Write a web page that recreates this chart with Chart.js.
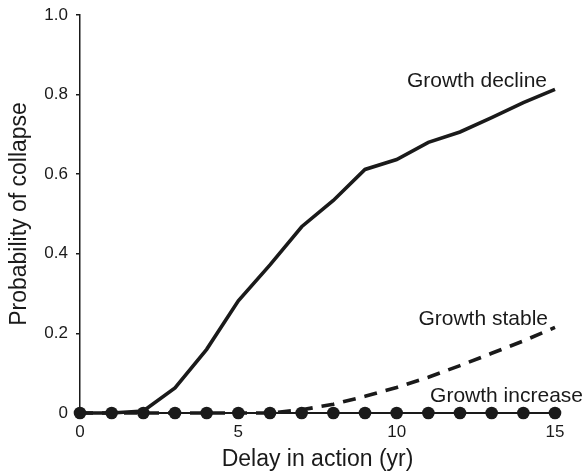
<!DOCTYPE html>
<html>
<head>
<meta charset="utf-8">
<script src="https://cdn.jsdelivr.net/npm/chart.js@4"></script>
<style>
  html, body { margin: 0; padding: 0; background: #fff; }
  #wrap { width: 585px; height: 476px; }
</style>
</head>
<body>
<div id="wrap"><canvas id="c" width="585" height="476"></canvas></div>
<script>
// Delay before management action (years)
const delays = [0, 1, 2, 3, 4, 5, 6, 7, 8, 9, 10, 11, 12, 13, 14, 15];

// Probability of stock collapse under each growth scenario
const growthDecline  = [0, 0, 0.005, 0.063, 0.16, 0.282, 0.372, 0.468, 0.534, 0.612, 0.637, 0.68, 0.706, 0.742, 0.78, 0.813];
const growthStable   = [0, 0, 0, 0, 0, 0, 0, 0.008, 0.022, 0.042, 0.064, 0.09, 0.119, 0.15, 0.181, 0.215];
const growthIncrease = [0, 0, 0, 0, 0, 0, 0, 0, 0, 0, 0, 0, 0, 0, 0, 0];

const seriesNames = ['Growth decline', 'Growth stable', 'Growth increase'];
const yTickLabels = ['0', '0.2', '0.4', '0.6', '0.8', '1.0'];
const xTickLabels = ['0', '5', '10', '15'];

const toPoints = vals => delays.map((d, i) => ({ x: d, y: vals[i] }));

const INK = '#1a1a1a';
const FONT = "'Liberation Sans', Arial, Helvetica, sans-serif";

// Writes each series name next to the end of its curve
const endLabels = {
  id: 'endLabels',
  afterDatasetsDraw(chart) {
    const ctx = chart.ctx;
    ctx.save();
    ctx.fillStyle = INK;
    ctx.font = '21px ' + FONT;
    ctx.textAlign = 'right';
    ctx.textBaseline = 'alphabetic';
    chart.data.datasets.forEach((ds, i) => {
      const meta = chart.getDatasetMeta(i);
      const last = meta.data[meta.data.length - 1];
      const off = ds.labelOffset;
      ctx.fillText(ds.label, last.x + off.dx, last.y + off.dy);
    });
    ctx.restore();
  }
};

new Chart(document.getElementById('c'), {
  type: 'scatter',
  data: {
    datasets: [
      {
        label: seriesNames[0],
        data: toPoints(growthDecline),
        showLine: true,
        borderColor: INK,
        borderWidth: 3.6,
        pointRadius: 0,
        tension: 0,
        clip: false,
        order: 2,
        labelOffset: { dx: -8, dy: -2 }
      },
      {
        label: seriesNames[1],
        data: toPoints(growthStable),
        showLine: true,
        borderColor: INK,
        borderWidth: 3.6,
        borderDash: [13, 9],
        pointRadius: 0,
        tension: 0,
        clip: false,
        order: 3,
        labelOffset: { dx: -7, dy: -2 }
      },
      {
        label: seriesNames[2],
        data: toPoints(growthIncrease),
        showLine: true,
        borderColor: INK,
        borderWidth: 2,
        pointRadius: 6.3,
        pointBackgroundColor: INK,
        pointBorderColor: INK,
        pointBorderWidth: 0,
        tension: 0,
        clip: false,
        order: 1,
        labelOffset: { dx: 28, dy: -11 }
      }
    ]
  },
  options: {
    responsive: false,
    animation: false,
    devicePixelRatio: 1,
    layout: { padding: { top: 15, right: 30, left: 0, bottom: 0 } },
    plugins: {
      legend: { display: false },
      tooltip: { enabled: false }
    },
    scales: {
      x: {
        type: 'linear',
        min: 0,
        max: 15,
        afterFit(scale) { scale.height = 63; },
        afterBuildTicks(scale) {
          scale.ticks = xTickLabels.map(t => ({ value: Number(t) }));
        },
        grid: { display: false, drawTicks: false },
        border: { display: true, color: INK, width: 1.5 },
        ticks: {
          color: INK,
          font: { family: FONT, size: 17 },
          padding: 9,
          maxRotation: 0,
          callback: (v) => String(v)
        },
        title: {
          display: true,
          text: 'Delay in action (yr)',
          color: INK,
          font: { family: FONT, size: 23 },
          padding: { top: 0, bottom: 3 }
        }
      },
      y: {
        type: 'linear',
        min: 0,
        max: 1,
        afterFit(scale) {
          scale.width = 80;
          scale.paddingTop = 0;
          scale.paddingBottom = 0;
        },
        afterBuildTicks(scale) {
          scale.ticks = yTickLabels.map(t => ({ value: Number(t) }));
        },
        grid: {
          display: true,
          drawOnChartArea: false,
          drawTicks: true,
          tickLength: 4,
          color: INK,
          lineWidth: 1.5
        },
        border: { display: true, color: INK, width: 1.5 },
        ticks: {
          color: INK,
          font: { family: FONT, size: 17 },
          padding: 8,
          callback: (v) => yTickLabels.find(t => Number(t) === v)
        },
        title: {
          display: true,
          text: 'Probability of collapse',
          color: INK,
          font: { family: FONT, size: 23 },
          padding: { top: 6, bottom: 0 }
        }
      }
    }
  },
  plugins: [endLabels]
});
</script>
</body>
</html>
